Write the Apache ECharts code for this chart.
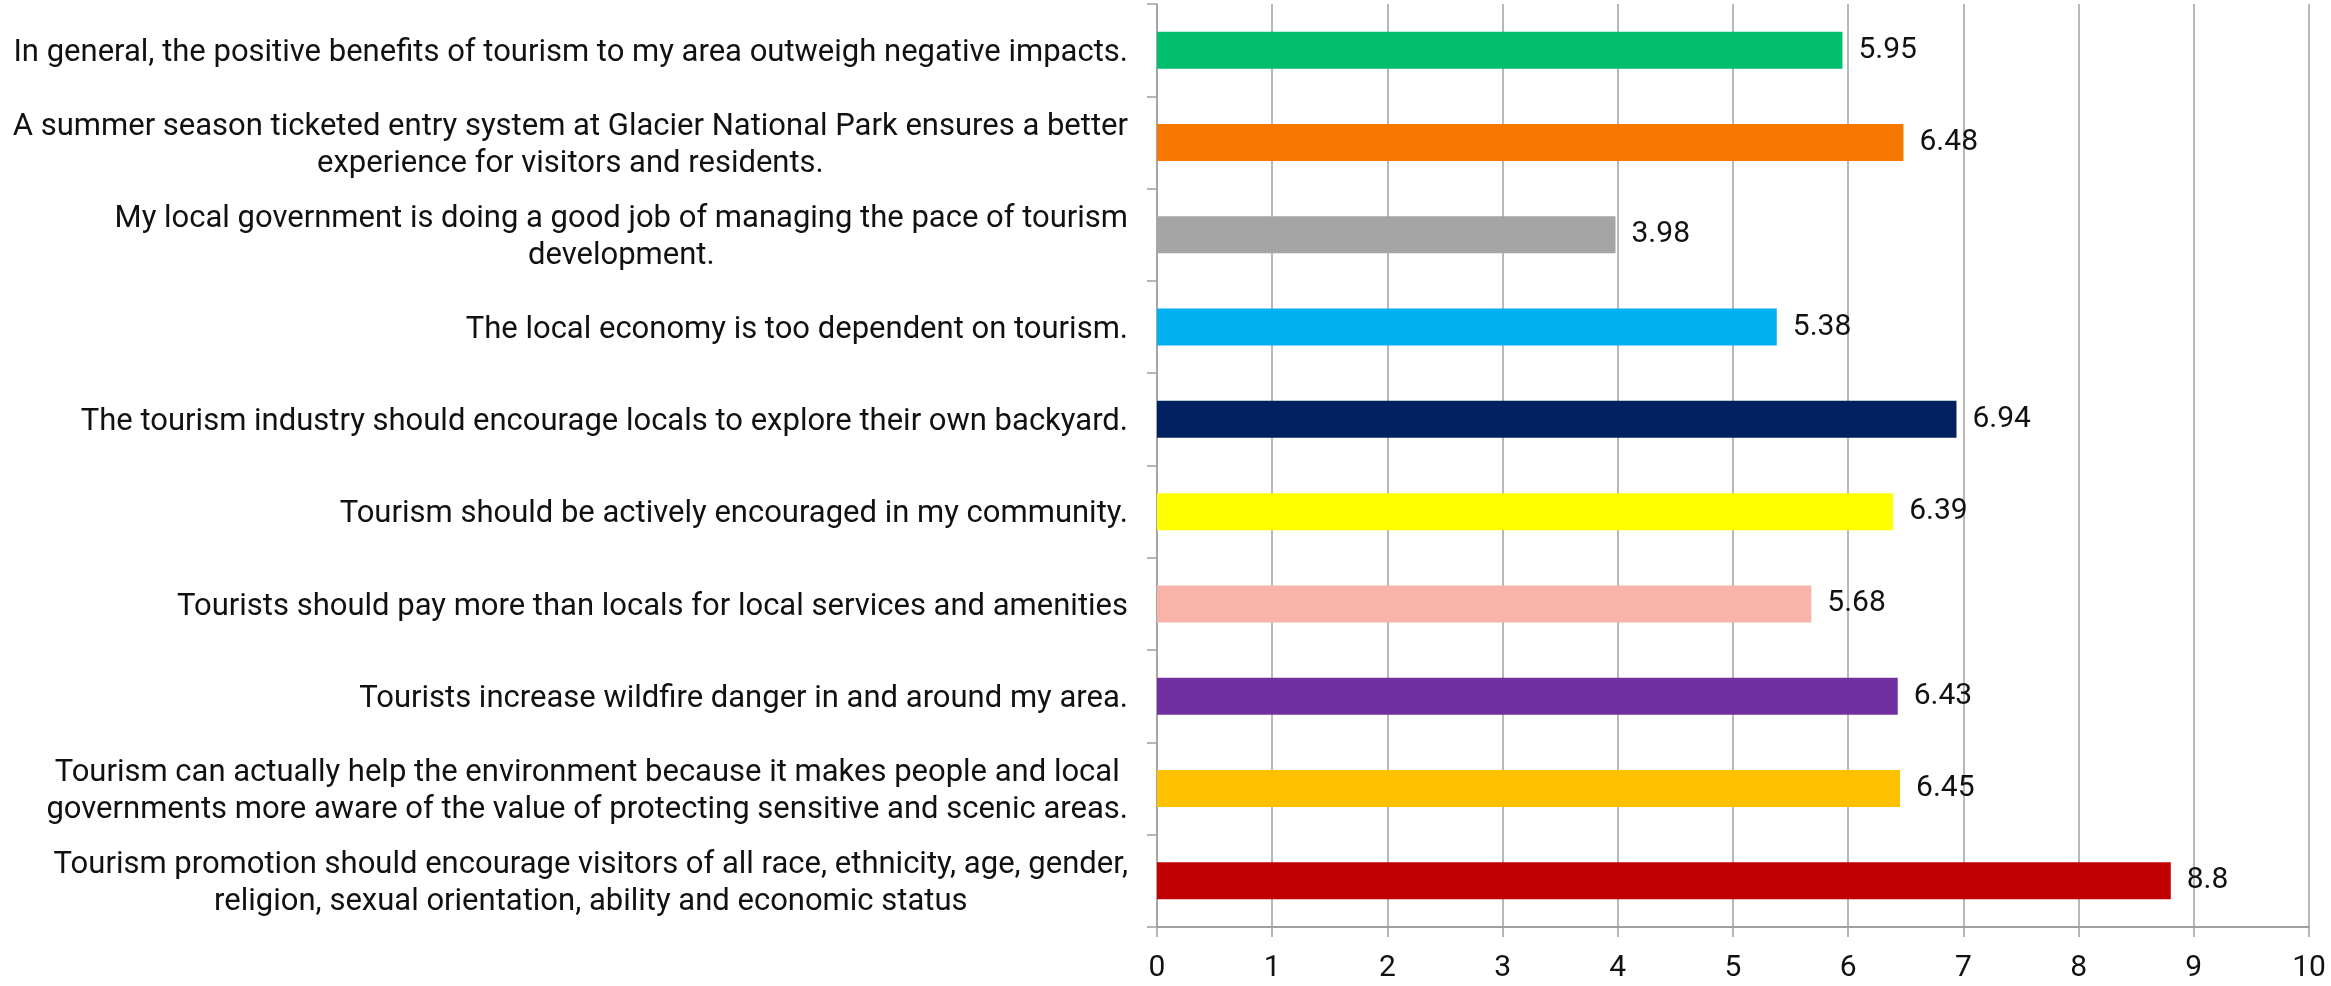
<!DOCTYPE html>
<html>
<head>
<meta charset="utf-8">
<script src="https://cdn.jsdelivr.net/npm/echarts@6/dist/echarts.min.js"></script>
<style>
html,body{margin:0;padding:0;background:#fff;}
#chart{width:2331px;height:986px;}
</style>
</head>
<body>
<div id="chart"></div>
<script>
const categories = [
  "In general, the positive benefits of tourism to my area outweigh negative impacts.",
  "A summer season ticketed entry system at Glacier National Park ensures a better\nexperience for visitors and residents.",
  "My local government is doing a good job of managing the pace of tourism\ndevelopment.",
  "The local economy is too dependent on tourism.",
  "The tourism industry should encourage locals to explore their own backyard.",
  "Tourism should be actively encouraged in my community.",
  "Tourists should pay more than locals for local services and amenities",
  "Tourists increase wildfire danger in and around my area.",
  "Tourism can actually help the environment because it makes people and local\ngovernments more aware of the value of protecting sensitive and scenic areas.",
  "Tourism promotion should encourage visitors of all race, ethnicity, age, gender,\nreligion, sexual orientation, ability and economic status"
];
const values = [5.95, 6.48, 3.98, 5.38, 6.94, 6.39, 5.68, 6.43, 6.45, 8.8];
const colors = ["#00BE6E", "#F77800", "#A5A5A5", "#00B0F0", "#002060", "#FFFF00", "#F8B4A8", "#7030A0", "#FFC000", "#C00000"];
const xTicks = [0, 10, 1];

const FONT = "Roboto";
const chart = echarts.init(document.getElementById('chart'), null, {renderer: 'canvas'});
chart.setOption({
  animation: false,
  backgroundColor: '#fff',
  grid: {left: 1157, right: 22, top: 4, bottom: 59, containLabel: false},
  xAxis: {
    type: 'value', min: xTicks[0], max: xTicks[1], interval: xTicks[2],
    axisLine: {show: true, lineStyle: {color: '#A0A0A0', width: 2}},
    axisTick: {show: true, length: 10, lineStyle: {color: '#A0A0A0', width: 1.5}},
    splitLine: {show: true, lineStyle: {color: '#A0A0A0', width: 1.5}},
    axisLabel: {color: '#111', fontSize: 30, fontFamily: FONT, margin: 26}
  },
  yAxis: {
    type: 'category', data: categories, inverse: true,
    axisLine: {show: true, lineStyle: {color: '#A0A0A0', width: 1.5}},
    axisTick: {show: true, length: 10, lineStyle: {color: '#A0A0A0', width: 1.5}},
    axisLabel: {
      color: '#111', fontSize: 31, fontFamily: FONT, margin: 29, lineHeight: 37,
      padding: [6, 0, 0, 0],
      formatter: function (v) { return v.split('\n').map(s => '{c|' + s + '}').join('\n'); },
      rich: {c: {align: 'center', fontSize: 31, fontFamily: FONT, color: '#111', lineHeight: 37}}
    }
  },
  series: [{
    type: 'bar',
    data: values.map((v, i) => ({value: v, itemStyle: {color: colors[i]}})),
    barWidth: 37,
    label: {show: true, position: 'right', distance: 16, color: '#111', fontSize: 30, fontFamily: FONT, padding: [6, 0, 0, 0]}
  }]
});
</script>
</body>
</html>
